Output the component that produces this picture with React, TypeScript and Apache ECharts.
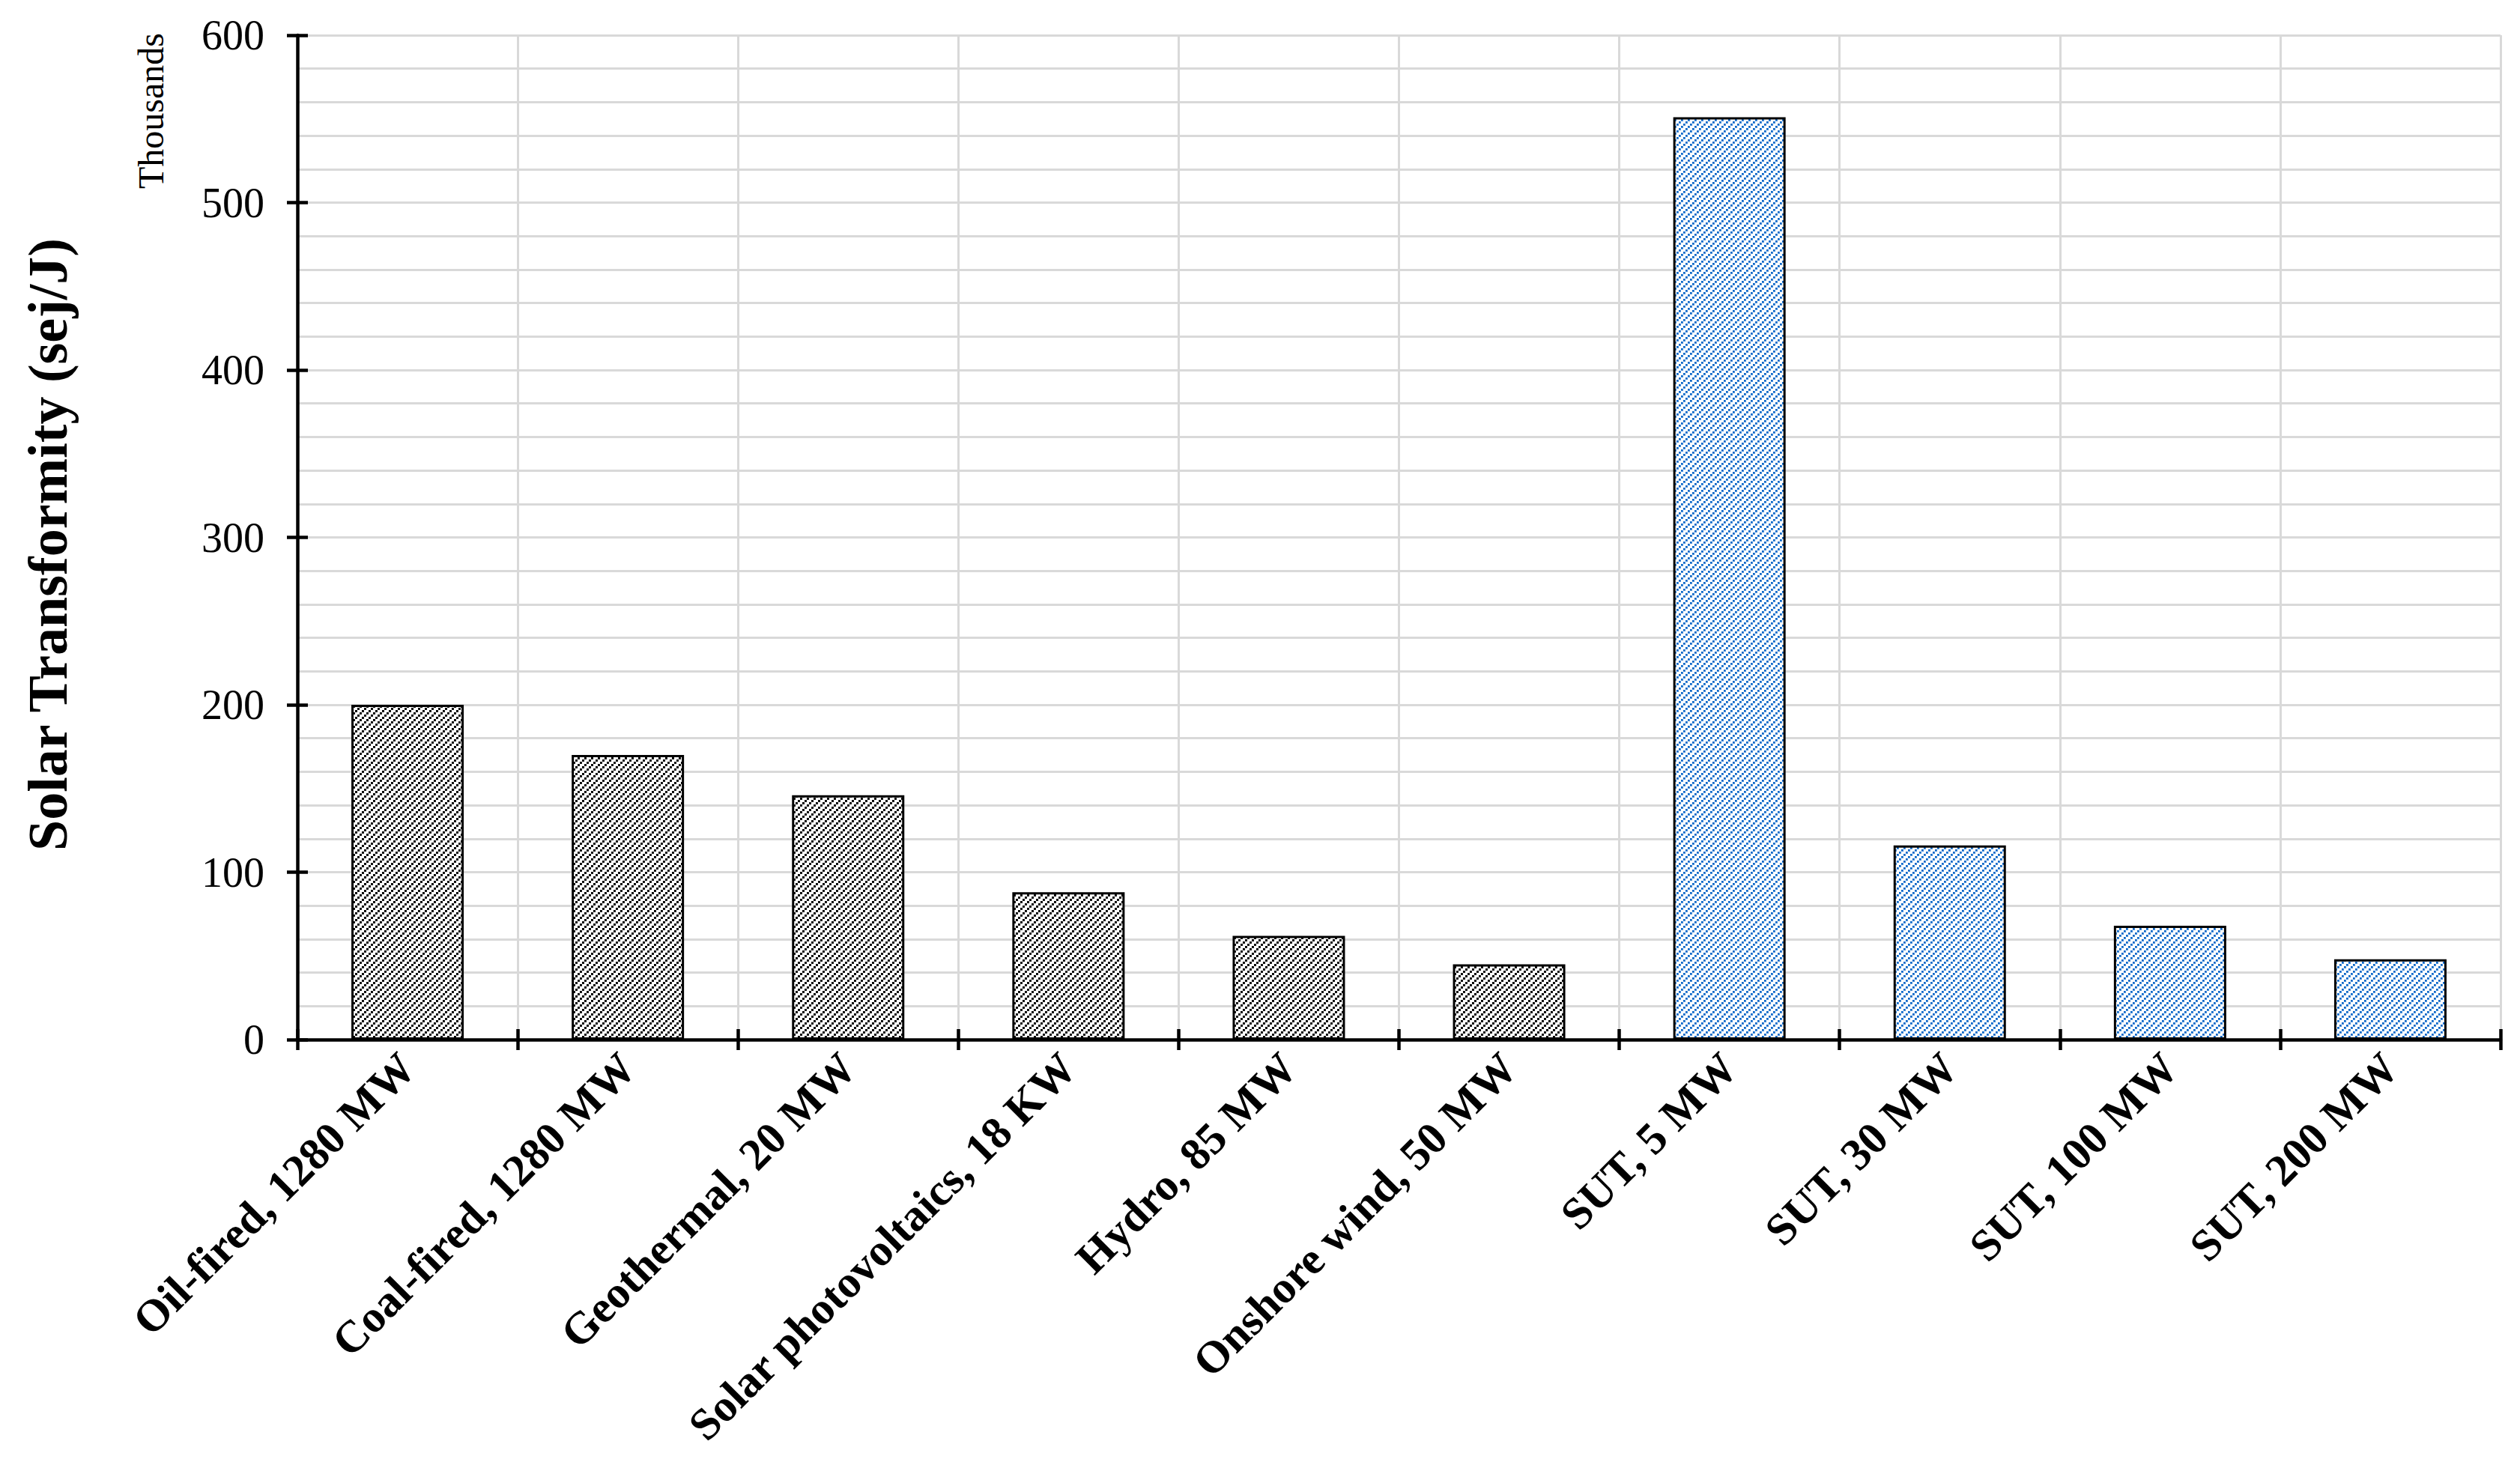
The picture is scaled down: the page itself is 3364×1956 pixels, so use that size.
import React, { useEffect, useRef } from "react";
import * as echarts from "echarts";

const categories = [
  "Oil-fired, 1280 MW",
  "Coal-fired, 1280 MW",
  "Geothermal, 20 MW",
  "Solar photovoltaics, 18 KW",
  "Hydro, 85 MW",
  "Onshore wind, 50 MW",
  "SUT, 5 MW",
  "SUT, 30 MW",
  "SUT, 100 MW",
  "SUT, 200 MW",
];
const values = [200, 170, 146, 88, 62, 45, 551, 116, 68, 48];
const isSut = [false, false, false, false, false, false, true, true, true, true];
const yMin = 0;
const yMax = 600;
const yInterval = 100;
const yTitle = "Solar Transformity (sej/J)";
const unitLabel = "Thousands";

const FONT = '"Liberation Serif", "Times New Roman", serif';

function makePattern(color: string, edge: string, cell: number, n: number) {
  const size = cell * n;
  const c = document.createElement("canvas");
  c.width = size;
  c.height = size;
  const ctx = c.getContext("2d")!;
  ctx.fillStyle = "#ffffff";
  ctx.fillRect(0, 0, size, size);
  for (let j = 0; j < n; j++) {
    for (let i = 0; i < n; i++) {
      if ((i + j) % n === 0) {
        ctx.fillStyle = edge;
        ctx.fillRect(i * cell, j * cell, cell, cell);
        ctx.fillStyle = color;
        ctx.fillRect(i * cell, j * cell, cell - 1, cell - 1);
      }
    }
  }
  return { image: c.toDataURL(), repeat: "repeat", imageWidth: size, imageHeight: size };
}

export default function App() {
  const ref = useRef<HTMLDivElement>(null);
  useEffect(() => {
    document.body.style.margin = "0";
    const chart = echarts.init(ref.current!, null, { renderer: "svg" });
    const blackPat = makePattern("#000000", "#1a1a1a", 3, 3);
    const bluePat = makePattern("#0b66c8", "#4a8fd6", 3, 3);
    const grid = { left: 397, right: 26, top: 47, bottom: 568 };
    const option: any = {
      animation: false,
      backgroundColor: "#ffffff",
      grid,
      xAxis: [
        {
          type: "category",
          data: categories,
          position: "bottom",
          axisLine: { show: true, lineStyle: { color: "#000", width: 4.5 } },
          axisTick: { show: true, inside: false, length: 14, lineStyle: { color: "#000", width: 4.5 } },
          axisLabel: {
            interval: 0,
            rotate: 45,
            margin: 28,
            fontFamily: FONT,
            fontWeight: "bold",
            fontSize: 60,
            color: "#000",
          },
          splitLine: { show: true, interval: 0, lineStyle: { color: "#d9d9d9", width: 3 } },
        },
        {
          type: "category",
          data: categories,
          position: "bottom",
          axisLine: { show: false },
          axisTick: { show: true, inside: true, length: 14, lineStyle: { color: "#000", width: 4.5 } },
          axisLabel: { show: false },
          splitLine: { show: false },
        },
      ],
      yAxis: [
        {
          type: "value",
          min: yMin,
          max: yMax,
          interval: yInterval,
          position: "left",
          axisLine: { show: true, lineStyle: { color: "#000", width: 4.5 } },
          axisTick: { show: true, inside: false, length: 14, lineStyle: { color: "#000", width: 4.5 } },
          axisLabel: { margin: 44, fontFamily: FONT, fontSize: 56, color: "#000" },
          splitLine: { show: true, lineStyle: { color: "#d9d9d9", width: 3 } },
          minorTick: { show: false, splitNumber: 5 },
          minorSplitLine: { show: true, lineStyle: { color: "#d9d9d9", width: 3 } },
        },
        {
          type: "value",
          min: yMin,
          max: yMax,
          interval: yInterval,
          position: "left",
          axisLine: { show: false },
          axisTick: { show: true, inside: true, length: 14, lineStyle: { color: "#000", width: 4.5 } },
          axisLabel: { show: false },
          splitLine: { show: false },
        },
      ],
      series: [
        {
          type: "bar",
          xAxisIndex: 0,
          yAxisIndex: 0,
          barWidth: "51%",
          data: values.map((v, i) => ({
            value: v,
            itemStyle: {
              color: isSut[i] ? bluePat : blackPat,
              borderColor: "#000",
              borderWidth: 3,
            },
          })),
        },
      ],
      graphic: [
        {
          type: "text",
          x: 64,
          y: 727,
          rotation: Math.PI / 2,
          style: {
            text: yTitle,
            fontFamily: FONT,
            fontWeight: "bold",
            fontSize: 74,
            fill: "#000",
            align: "center",
            verticalAlign: "middle",
          },
        },
        {
          type: "text",
          x: 201,
          y: 44,
          rotation: Math.PI / 2,
          style: {
            text: unitLabel,
            fontFamily: FONT,
            fontSize: 48,
            fill: "#000",
            align: "right",
            verticalAlign: "middle",
          },
        },
      ],
    };
    chart.setOption(option);
    return () => chart.dispose();
  }, []);
  return <div ref={ref} style={{ width: 3364, height: 1956 }} />;
}
